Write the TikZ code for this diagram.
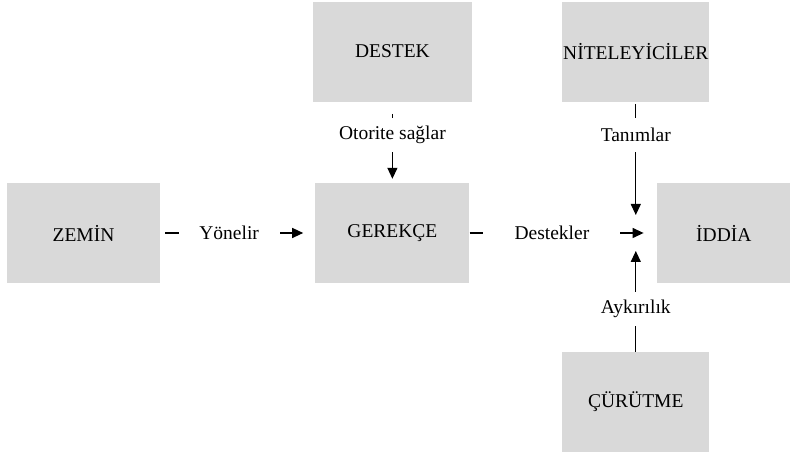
\documentclass[tikz,border=0pt]{standalone}
\usepackage{fontspec}
\setmainfont{Liberation Serif}
\usepackage{xcolor}
\definecolor{boxgray}{HTML}{D9D9D9}
\usepackage{tikz}
\usetikzlibrary{arrows.meta,positioning}

\begin{document}
\begin{tikzpicture}[x=1bp, y=1bp,
      box/.style={fill=boxgray, minimum width=154bp, minimum height=100bp, inner sep=0pt, align=center, font=\fontsize{19.5bp}{23bp}\selectfont},
      lbl/.style={fill=white, inner sep=0pt, minimum height=34bp, font=\fontsize{19.5bp}{23bp}\selectfont},
      link/.style={line width=1.2bp, -{Triangle[length=11bp,width=10bp]}},
      node distance=6pt
    ]
    \useasboundingbox (0,0) rectangle (790,455);
    \node[box, minimum width=153bp] (zemin) at (83.5,222) {ZEMİN};
    \node[box, right=155bp of zemin] (gerekce) {GEREKÇE};
    \node[box, above=81bp of gerekce, minimum width=159bp] (destek) {DESTEK};
    \node[box, right=187bp of gerekce, minimum width=134bp] (iddia) {İDDİA};
    \node[box, right=90bp of destek, minimum width=147bp] (nitel) {NİTELEYİCİLER};
    \node[box, below=250bp of nitel, minimum width=147bp] (curutme) {ÇÜRÜTME};
    \coordinate (hub) at (nitel |- iddia);

    \draw[link, shorten <=5bp, shorten >=12bp] (zemin) -- node[lbl, pos=0.445, minimum width=101bp] {Yönelir} (gerekce);
    \draw[link, shorten >=13bp] (gerekce) -- node[lbl, pos=0.44, minimum width=137bp] {Destekler} (iddia);
    \draw[link, shorten <=12bp, shorten >=4bp] (destek) -- node[lbl, pos=0.41] {Otorite sağlar} (gerekce);
    \draw[link, shorten <=2bp, shorten >=18bp] (nitel) -- node[lbl, pos=0.25] {Tanımlar} (hub);
    \draw[link, shorten >=18bp] (curutme) -- node[lbl, pos=0.358] {Aykırılık} (hub);
  \end{tikzpicture}
\end{document}
